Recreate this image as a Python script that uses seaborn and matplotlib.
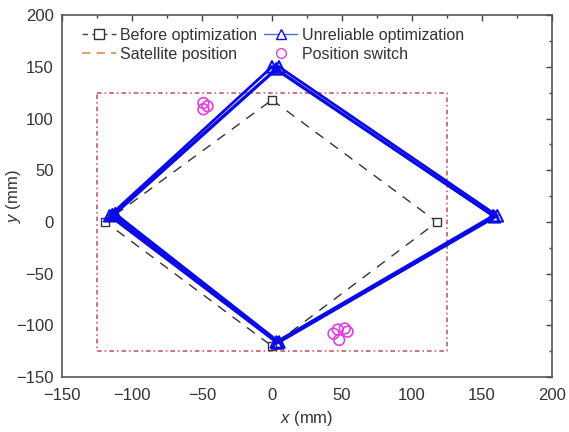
import numpy as np
import pandas as pd
import matplotlib
matplotlib.use("Agg")
import matplotlib.pyplot as plt
from matplotlib.lines import Line2D
import seaborn as sns

# ---- data (mm) ----
before_x = [0, 118, 0, -119, 0]
before_y = [118, 0, -120, 0, 118]

unrel1_x = [0, 158, 3, -116, 0]
unrel1_y = [150, 6, -116, 6, 150]
unrel2_x = [5, 161, 5, -112, 5]
unrel2_y = [150, 6, -116, 8, 150]
unrel3_x = [3, 159, 4, -114, 3]
unrel3_y = [148, 5, -117, 7, 148]

sat_x = [-125, 125, 125, -125, -125]
sat_y = [125, 125, -125, -125, 125]

switch_x = [-49, -46, -49, 44, 47, 52, 54, 48]
switch_y = [115, 112, 109, -108, -104, -103, -106, -114]

legend_labels = ["Before optimization", "Unreliable optimization",
                 "Satellite position", "Position switch"]

sns.set_style("white")
plt.rcParams['font.family'] = ['Liberation Sans', 'DejaVu Sans']
plt.rcParams['mathtext.fontset'] = 'custom'
plt.rcParams['mathtext.it'] = 'Liberation Sans:italic'
plt.rcParams['mathtext.rm'] = 'Liberation Sans'

fig = plt.figure(figsize=(5.69, 4.32), dpi=100)
ax = fig.add_axes([0.109, 0.127, 0.861, 0.838])

blue = "#0a0ae6"
sat_col = "#c44a66"

# satellite rectangle (dash-dot, reddish)
df_sat = pd.DataFrame({"x": sat_x, "y": sat_y})
sns.lineplot(data=df_sat, x="x", y="y", sort=False, estimator=None, ax=ax,
             color=sat_col, lw=1.1, linestyle=(0, (3, 2, 1, 2)))

# before optimization
df_b = pd.DataFrame({"x": before_x, "y": before_y})
sns.lineplot(data=df_b, x="x", y="y", sort=False, estimator=None, ax=ax,
             color="#333333", lw=1.0, linestyle=(0, (7, 6)))
sns.scatterplot(x=before_x[:-1], y=before_y[:-1], marker="s", s=40,
                facecolor="white", edgecolor="#333333", linewidth=1.0, ax=ax, zorder=3)

# unreliable optimization
for ux, uy in [(unrel1_x, unrel1_y), (unrel2_x, unrel2_y), (unrel3_x, unrel3_y)]:
    d = pd.DataFrame({"x": ux, "y": uy})
    sns.lineplot(data=d, x="x", y="y", sort=False, estimator=None, ax=ax,
                 color=blue, lw=2.0, zorder=4)
    sns.scatterplot(x=ux[:-1], y=uy[:-1], marker="^", s=70, facecolor="none",
                    edgecolor=blue, linewidth=1.4, ax=ax, zorder=5)

# position switch
sns.scatterplot(x=switch_x, y=switch_y, marker="o", s=60, facecolor="none",
                edgecolor="#e040e0", linewidth=1.2, ax=ax, zorder=6)

ax.set_xlim(-150, 200)
ax.set_ylim(-150, 200)
ax.set_xticks(np.arange(-150, 201, 50))
ax.set_yticks(np.arange(-150, 201, 50))
ax.set_xticks(np.arange(-150, 201, 25), minor=True)
ax.set_yticks(np.arange(-150, 201, 25), minor=True)
ax.tick_params(which="both", direction="in", top=True, right=True,
               colors="#444444", labelcolor="#333333", labelsize=12)
ax.tick_params(which="major", length=4, width=1)
ax.tick_params(which="minor", length=2.5, width=1)
ax.tick_params(axis="x", which="major", pad=8)
ax.tick_params(axis="y", which="major", pad=6)
for s in ax.spines.values():
    s.set_color("#555555")
    s.set_linewidth(1.2)

ax.set_xlabel(r"$x$ (mm)", fontsize=12, color="#333333", labelpad=4)
ax.set_ylabel(r"$y$ (mm)", fontsize=12, color="#333333")
ax.yaxis.set_label_coords(-0.08, 0.5)

handles = [
    Line2D([], [], color="#444444", lw=1.0, linestyle=(0, (4, 3)), marker="s",
           markerfacecolor="white", markeredgecolor="#333333", markersize=7),
    Line2D([], [], color="#5070d0", lw=1.0, marker="^", markerfacecolor="white",
           markeredgecolor=blue, markersize=7),
    Line2D([], [], color="#e0a070", lw=1.5, linestyle=(0, (4, 3))),
    Line2D([], [], color="none", marker="o", markerfacecolor="none",
           markeredgecolor="#e040e0", markersize=7),
]
order = [0, 2, 1, 3]
ax.legend([handles[i] for i in order], [legend_labels[i] for i in order],
          ncol=2, loc="upper left", bbox_to_anchor=(0.015, 1.0), frameon=False,
          fontsize=11.5, handlelength=2.1, handletextpad=0.3, columnspacing=0.4,
          labelspacing=0.25, borderaxespad=0.4, labelcolor="#333333")

fig.savefig("out.png", dpi=100)
